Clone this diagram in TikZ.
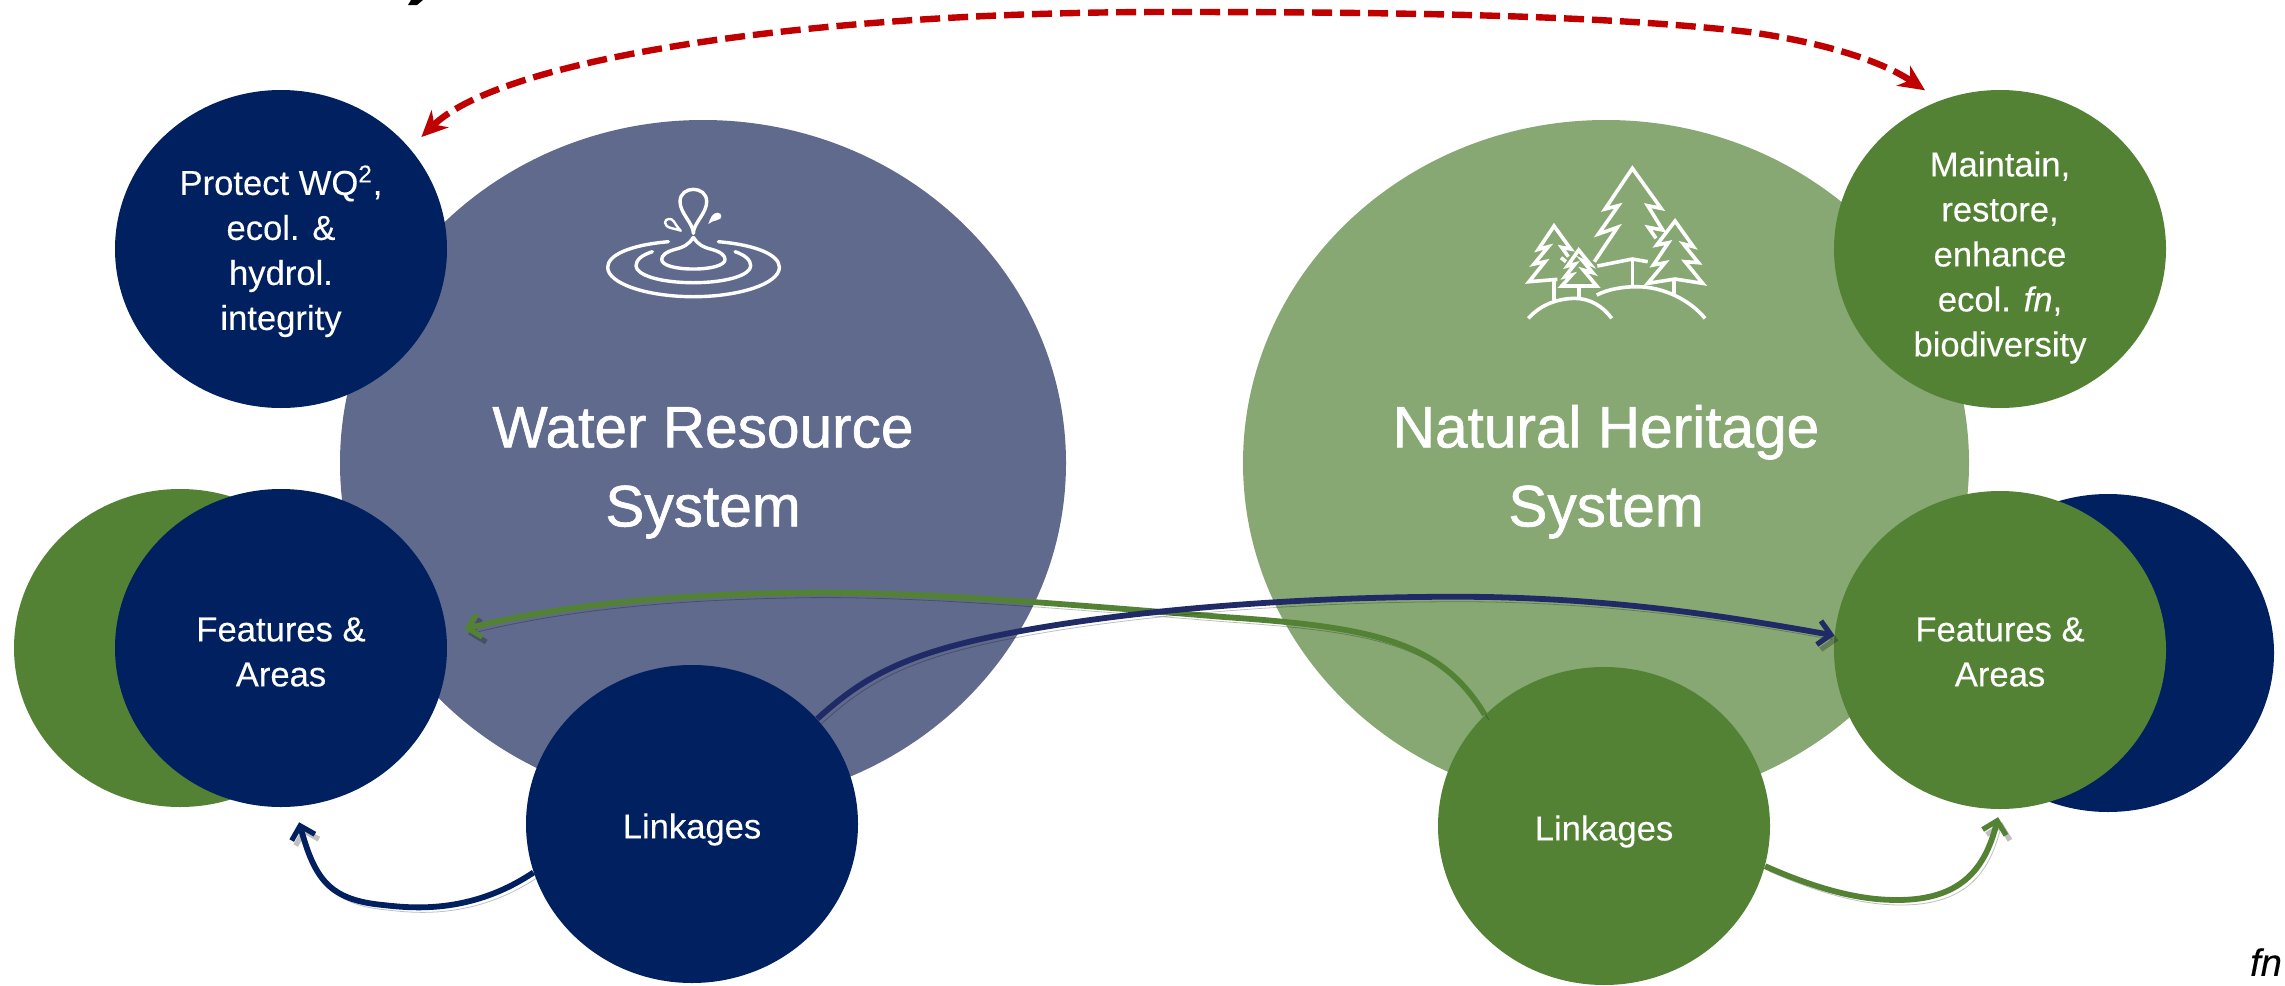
\documentclass[tikz,border=0pt]{standalone}
\usepackage{fontspec}
\setmainfont[FakeBold=0.25]{Liberation Sans}
\newfontfamily\titlefont[FakeBold=1]{Liberation Sans}
\usepackage{tikz}
\usetikzlibrary{positioning}
\usetikzlibrary{shapes.geometric,arrows.meta}
\definecolor{navy}{HTML}{002060}
\definecolor{leaf}{HTML}{548235}
\definecolor{paleNavy}{HTML}{606A8D}
\definecolor{paleLeaf}{HTML}{87A873}
\definecolor{longNavy}{HTML}{1F2A66}
\definecolor{dashRed}{HTML}{C00000}
\newcommand{\lift}[1]{\rule{0pt}{#1pt}}
\tikzset{
bigdisc/.style = {ellipse, minimum width=363pt, minimum height=343pt, inner sep=0pt, text=white, align=center,
  font=\titlefont\fontsize{29.3}{39.5}\selectfont},
disc/.style = {ellipse, minimum width=166pt, minimum height=159pt, inner sep=0pt, text=white, align=center,
  font=\fontsize{17.3}{22.5}\selectfont},
navydisc/.style = {disc, fill=navy},
leafdisc/.style = {disc, fill=leaf},
link/.style = {line width=2.9pt, -{Straight Barb[length=6pt,width=12pt,line width=2.6pt]},
  preaction={draw=black, opacity=.25, transform canvas={shift={(2pt,-2.5pt)}}}},
roundtrip/.style = {draw=dashRed, line width=3.2pt, dash pattern=on 10pt off 4pt,
  {Stealth[length=13pt,width=12pt,inset=4pt,sep=0pt]}-{Stealth[length=13pt,width=12pt,inset=4pt]}},
icon/.style = {draw=white, line width=1.7pt, line cap=round, line join=round},
treeicon/.style = {draw=white, line width=1.8pt, line join=miter},
}
\begin{document}
\begin{tikzpicture}[x=.5pt, y=-.5pt]
    \useasboundingbox (0,0) rectangle (2285,985);
    % We start by placing the large discs
    \node [bigdisc, fill=paleNavy] (water) at (703,463) {\lift{30}Water Resource\\System};
    \node [bigdisc, fill=paleLeaf, right of=water, node distance=451.5pt] (heritage) {\lift{30}Natural Heritage\\System};

    % then the discs on the left
    \node [navydisc] (protect) at (281,249) {\lift{17}Protect WQ\textsuperscript{2},\\ecol. \&\\hydrol.\\integrity};
    \node [leafdisc] (backLeft) at (180,648) {};
    \node [navydisc, right of=backLeft, node distance=50.5pt] (featuresLeft) {\lift{16}Features \&\\Areas};
    \node [navydisc] (linkLeft) at (692,824) {\lift{18}Linkages};

    % and on the right
    \node [leafdisc, inner ysep=-3pt, right of=protect, node distance=859.5pt] (maintain) {\lift{21}Maintain,\\restore,\\enhance\\ecol. \textit{fn},\\biodiversity};
    \node [navydisc] (backRight) at (2108,653) {};
    \node [leafdisc] (featuresRight) at (2000,650) {\lift{14}Features \&\\Areas};
    \node [leafdisc] (linkRight) at (1604,826) {\lift{18}Linkages};
    \node [font=\fontsize{19}{22}\selectfont\itshape, inner sep=0pt] (fnote) at (2266,962) {fn};

    % connectors
    \draw [roundtrip, shorten <=8pt, shorten >=9pt] (protect.38) .. controls (500,60) and (800,12) .. (1166,12)
        .. controls (1400,12) and (1600,15) .. (1749,32) .. controls (1820,42) and (1880,60) .. (maintain.112);
    \draw [link, draw=leaf, shorten >=9pt] (linkRight.137) .. controls (1440,640) and (1370,627) .. (1224,617)
        .. controls (1050,603) and (900,590) .. (787,593) .. controls (680,595) and (570,603) .. (featuresLeft.5);
    \draw [link, draw=longNavy] (linkLeft.40) .. controls (860,680) and (900,655) .. (1000,635)
        .. controls (1150,605) and (1350,595) .. (1488,597) .. controls (1620,600) and (1720,615) .. (featuresRight.175);
    \draw [link, draw=navy, shorten >=8pt] (linkLeft.197) .. controls (470,915) and (410,908) .. (383,905)
        .. controls (330,900) and (315,880) .. (featuresLeft.-85);
    \draw [link, draw=leaf, shorten >=4pt] (linkRight.346) .. controls (1830,895) and (1870,900) .. (1897,900)
        .. controls (1960,900) and (1985,870) .. (featuresRight.270);

    % water icon
    \begin{scope}[shift={(560,120)}, x=.1667pt, y=-.1667pt]
        \draw [icon] (325,365) .. controls (210,375) and (143,405) .. (143,442) .. controls (143,490) and (260,530) .. (400,530)
            .. controls (540,530) and (658,490) .. (658,442) .. controls (658,405) and (590,375) .. (475,365);
        \draw [icon] (277,395) .. controls (245,405) and (228,420) .. (228,437) .. controls (228,465) and (300,488) .. (400,488)
            .. controls (500,488) and (572,465) .. (572,437) .. controls (572,420) and (555,405) .. (525,395);
        \draw [icon] (400,352) .. controls (385,375) and (370,382) .. (345,388) .. controls (320,395) and (305,405) .. (305,418)
            .. controls (305,437) and (350,447) .. (400,447) .. controls (450,447) and (495,437) .. (495,418)
            .. controls (495,405) and (480,395) .. (455,388) .. controls (430,382) and (415,375) .. (400,352);
        \draw [icon] (400,340) .. controls (400,310) and (360,280) .. (360,245) .. controls (360,220) and (380,208) .. (400,208)
            .. controls (420,208) and (440,220) .. (440,245) .. controls (440,280) and (400,310) .. (400,340);
        \draw [icon, line width=1.2pt] (362,332) .. controls (345,325) and (315,325) .. (315,308) .. controls (315,295) and (335,292) .. (342,305) .. controls (348,315) and (355,325) .. (362,332);
        \fill [white] (445,312) .. controls (450,295) and (458,278) .. (472,278) .. controls (488,278) and (488,298) .. (472,300) .. controls (462,302) and (452,306) .. (445,312) -- cycle;
    \end{scope}

    % tree icon
    \begin{scope}[shift={(1480,140)}, x=.1667pt, y=-.1667pt]
        \draw [treeicon] (343,365) -- (412,262) -- (355,282) -- (415,197) -- (375,207) -- (457,85) -- (543,205) -- (503,197) -- (548,270) -- (505,262) -- (528,295);
        \draw [treeicon] (352,378) -- (457,357) -- (503,365);
        \draw [treeicon] (457,357) -- (457,437);
        \draw [treeicon] (503,430) -- (555,368) -- (520,375) -- (565,308) -- (530,315) -- (585,243) -- (640,320) -- (610,312) -- (655,368) -- (615,365) -- (668,430) -- (585,417) -- cycle;
        \draw [treeicon] (582,417) -- (582,468);
        \draw [treeicon] (232,418) -- (147,425) -- (195,365) -- (162,372) -- (205,320) -- (175,328) -- (222,258) -- (272,327) -- (245,322) -- (265,350);
        \draw [treeicon] (243,353) -- (258,365);
        \draw [treeicon] (222,420) -- (222,480);
        \draw [treeicon] (245,438) -- (275,405) -- (255,410) -- (285,372) -- (262,378) -- (296,330) -- (330,372) -- (308,362) -- (338,398) -- (310,390) -- (350,438) -- cycle;
        \draw [treeicon] (296,438) -- (296,470);
        \draw [treeicon] (145,535) .. controls (185,490) and (240,475) .. (285,475) .. controls (330,475) and (370,500) .. (395,535);
        \draw [treeicon] (350,465) .. controls (385,447) and (430,440) .. (470,440) .. controls (550,440) and (630,480) .. (675,535);
    \end{scope}

    % clipped letter at the upper edge
    \fill [black] (411,0) -- (423,0) -- (417,5) -- (408,5) -- cycle;
\end{tikzpicture}
\end{document}
